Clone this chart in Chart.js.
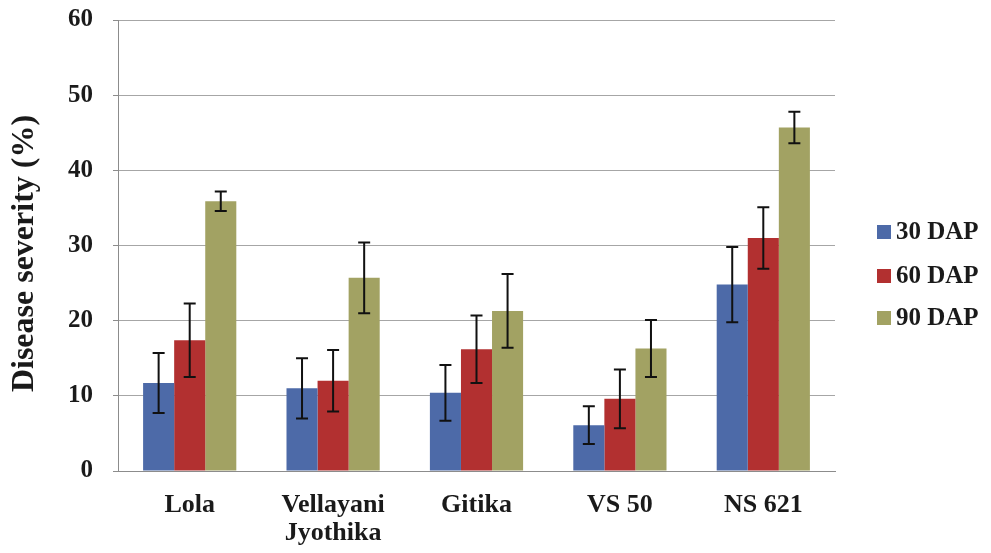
<!DOCTYPE html>
<html>
<head>
<meta charset="utf-8">
<script src="https://cdn.jsdelivr.net/npm/chart.js@4/dist/chart.umd.min.js"></script>
<style>
  html, body { margin: 0; padding: 0; background: #fff; }
  #wrap { width: 991px; height: 553px; position: relative; }
</style>
</head>
<body>
<div id="wrap"><canvas id="c" width="991" height="553"></canvas></div>
<script>
// Cultivars and sampling dates
const categories = ['Lola', ['Vellayani', 'Jyothika'], 'Gitika', 'VS 50', 'NS 621'];
const seriesNames = ['30 DAP', '60 DAP', '90 DAP'];

// Mean disease severity (%) and standard error for each date
const dap30 = [11.7, 11.0, 10.4, 6.1, 24.8];
const dap60 = [17.4, 12.0, 16.2, 9.6, 31.0];
const dap90 = [35.9, 25.7, 21.3, 16.3, 45.7];
const err30 = [4.0, 4.0, 3.7, 2.5, 5.0];
const err60 = [4.9, 4.1, 4.5, 3.9, 4.1];
const err90 = [1.3, 4.7, 4.9, 3.8, 2.1];

const yTicks = [0, 10, 20, 30, 40, 50, 60];

const colors = ['#4d6aa8', '#b23030', '#a2a263'];
const serif = "'Liberation Serif', 'Times New Roman', serif";

const values = [dap30, dap60, dap90];
const errors = [err30, err60, err90];

// Vertical error bars with caps, positioned through the chart's scales
const errorBars = {
  id: 'errorBars',
  afterDatasetsDraw(chart) {
    const ctx = chart.ctx;
    const y = chart.scales.y;
    ctx.save();
    ctx.strokeStyle = '#111';
    ctx.lineWidth = 2;
    chart.data.datasets.forEach((ds, i) => {
      const meta = chart.getDatasetMeta(i);
      meta.data.forEach((bar, j) => {
        const v = ds.data[j];
        const e = ds.errors[j];
        const top = y.getPixelForValue(v + e);
        const bot = y.getPixelForValue(v - e);
        const x = bar.x;
        const cap = 6;
        ctx.beginPath();
        ctx.moveTo(x, top); ctx.lineTo(x, bot);
        ctx.moveTo(x - cap, top); ctx.lineTo(x + cap, top);
        ctx.moveTo(x - cap, bot); ctx.lineTo(x + cap, bot);
        ctx.stroke();
      });
    });
    ctx.restore();
  }
};

// Legend drawn to the right of the plot
const sideLegend = {
  id: 'sideLegend',
  afterDraw(chart) {
    const ctx = chart.ctx;
    const x0 = chart.chartArea.right + 42;
    const rows = [232, 276, 318];
    ctx.save();
    ctx.font = 'bold 25px ' + serif;
    ctx.textBaseline = 'middle';
    ctx.textAlign = 'left';
    chart.data.datasets.forEach((ds, i) => {
      const yy = rows[i];
      ctx.fillStyle = ds.backgroundColor;
      ctx.fillRect(x0, yy - 7, 14, 14);
      ctx.fillStyle = '#1a1a1a';
      ctx.fillText(ds.label, x0 + 19, yy + 1);
    });
    ctx.restore();
  }
};

const datasets = seriesNames.map((name, i) => ({
  label: name,
  data: values[i],
  errors: errors[i],
  backgroundColor: colors[i],
  borderWidth: 0,
  categoryPercentage: 0.65,
  barPercentage: 1.0
}));

new Chart(document.getElementById('c'), {
  type: 'bar',
  data: { labels: categories, datasets },
  options: {
    responsive: false,
    animation: false,
    layout: { padding: { top: 20, right: 156, left: 0, bottom: 0 } },
    plugins: {
      legend: { display: false },
      tooltip: { enabled: false }
    },
    scales: {
      x: {
        grid: { display: false, drawTicks: false },
        border: { color: '#8c8c8c', width: 1 },
        ticks: {
          color: '#1a1a1a',
          font: { family: serif, weight: 'bold', size: 26, lineHeight: 1.08 },
          padding: 20,
          maxRotation: 0,
          autoSkip: false
        },
        afterFit(s) { s.height = 82; s.paddingLeft = 0; s.paddingRight = 0; }
      },
      y: {
        min: 0, max: 60,
        afterBuildTicks(s) { s.ticks = yTicks.map(v => ({ value: v })); },
        grid: { color: '#a6a6a6', lineWidth: 1, tickLength: 5, tickColor: '#8c8c8c' },
        border: { color: '#8c8c8c', width: 1 },
        ticks: {
          color: '#1a1a1a',
          font: { family: serif, weight: 'bold', size: 25 },
          padding: 20
        },
        title: {
          display: true,
          // trailing spaces nudge the rotated title a little lower
          text: 'Disease severity (%)  ',
          color: '#1a1a1a',
          font: { family: serif, weight: 'bold', size: 32 },
          padding: { top: 6, bottom: 0 }
        },
        afterFit(s) { s.width = 118; s.paddingTop = 0; s.paddingBottom = 0; }
      }
    }
  },
  plugins: [errorBars, sideLegend]
});
</script>
</body>
</html>
